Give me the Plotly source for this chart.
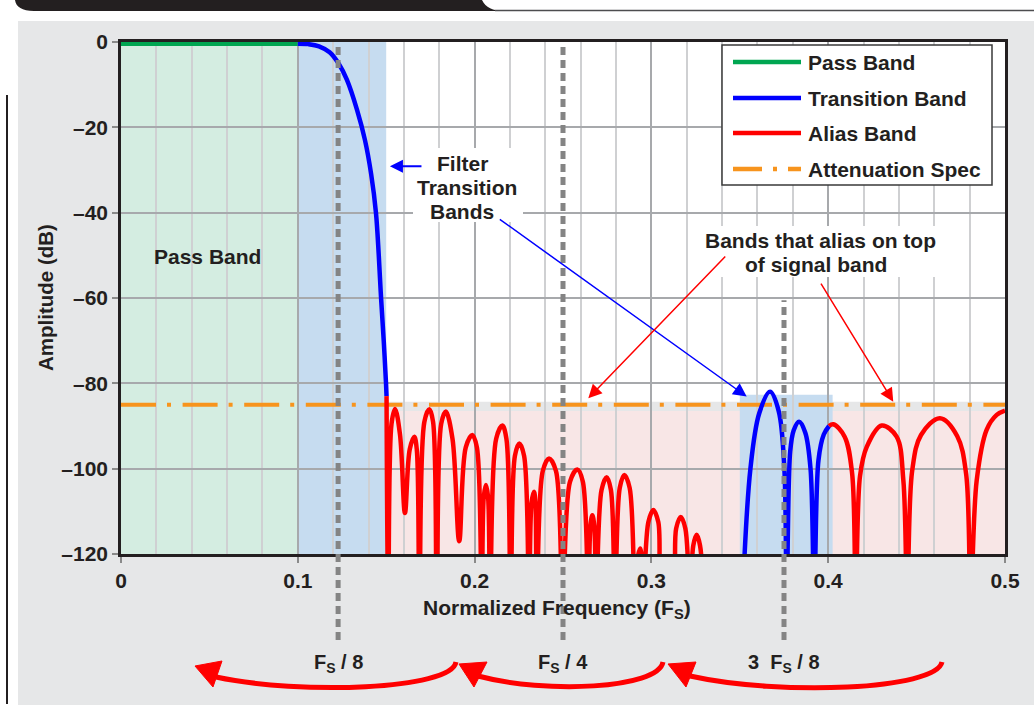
import plotly.graph_objects as go

# ---------------- data ----------------
x_tick_vals = [0, 0.1, 0.2, 0.3, 0.4, 0.5]
x_tick_text = ["0", "0.1", "0.2", "0.3", "0.4", "0.5"]
y_tick_vals = [0, -20, -40, -60, -80, -100, -120]
y_tick_text = ["0", "\u201320", "\u201340", "\u201360", "\u201380", "\u2013100", "\u2013120"]

pass_f = [0.0, 0.1]
pass_db = [-0.4, -0.4]

trans1_f = [0.100, 0.106, 0.112, 0.118, 0.123, 0.1278, 0.1335, 0.1380, 0.1415,
            0.1442, 0.1458, 0.1471, 0.1486, 0.1499, 0.1502]
trans1_db = [-0.4, -0.5, -1.0, -2.4, -5.0, -8.9, -15.9, -23.0, -31.0,
             -40.0, -50.0, -60.0, -70.0, -80.0, -83.0]

alias1_f = [0.1502, 0.1512, 0.1530, 0.1550, 0.1578, 0.1606, 0.1633, 0.1659, 0.1673,
            0.1688, 0.1716, 0.1744, 0.1765, 0.1786, 0.1811, 0.1837, 0.1875, 0.1913,
            0.1950, 0.1987, 0.2013, 0.2040, 0.2052, 0.2064, 0.2076, 0.2088, 0.2122,
            0.2157, 0.2180, 0.2204, 0.2228, 0.2253, 0.2280, 0.2308, 0.2322, 0.2336,
            0.2344, 0.2352, 0.2386, 0.2421, 0.2460, 0.2498, 0.2540, 0.2581, 0.2612,
            0.2643, 0.2655, 0.2666, 0.2677, 0.2688, 0.2718, 0.2747, 0.2771, 0.2794,
            0.2821, 0.2847, 0.2877, 0.2907, 0.2922, 0.2936, 0.2946, 0.2954, 0.2983,
            0.3011, 0.3039, 0.3067, 0.3114, 0.3140, 0.3166, 0.3192, 0.3218, 0.3237,
            0.3256, 0.3275, 0.3294]
alias1_db = [-83.0, -130.0, -89.5, -86.0, -92.0, -110.4, -95.5, -92.5, -95.5,
             -130.0, -89.0, -86.1, -89.0, -130.0, -89.5, -86.6, -93.0, -117.0,
             -95.0, -92.1, -95.0, -130.0, -106.5, -103.8, -106.5, -130.0, -93.0,
             -89.9, -93.0, -130.0, -97.0, -94.1, -97.0, -130.0, -108.0, -105.4,
             -108.0, -130.0, -100.5, -97.6, -100.5, -130.0, -103.0, -100.2, -103.0,
             -130.0, -113.5, -110.9, -113.5, -130.0, -105.0, -102.0, -105.0, -130.0,
             -104.5, -101.5, -104.5, -130.0, -121.0, -118.7, -121.0, -130.0, -112.5,
             -109.7, -112.5, -130.0, -130.0, -114.0, -111.3, -114.0, -130.0, -118.0,
             -115.5, -118.0, -130.0]

trans2_f = [0.3516, 0.3560, 0.3610, 0.3671, 0.3720, 0.3752, 0.3765, 0.3785, 0.3805,
            0.3835, 0.3870, 0.3900, 0.3921, 0.3945, 0.3975, 0.4005]
trans2_db = [-130.0, -100.0, -87.0, -82.0, -86.5, -100.0, -130.0, -96.0, -91.0,
             -89.0, -91.5, -100.0, -130.0, -98.0, -92.0, -90.0]

alias2_f = [0.4005, 0.4029, 0.4093, 0.4135, 0.4156, 0.4180, 0.4218, 0.4303, 0.4387,
            0.4425, 0.4447, 0.4475, 0.4525, 0.4632, 0.4730, 0.4780, 0.4806, 0.4840,
            0.4896, 0.4953, 0.5000]
alias2_db = [-90.0, -89.6, -92.5, -101.0, -130.0, -101.7, -94.9, -89.9, -92.5,
             -102.7, -130.0, -100.5, -92.1, -88.2, -92.4, -101.2, -130.0, -102.7,
             -90.9, -87.4, -86.4]

atten_f = [0.0, 0.5]
atten_db = [-85.0, -85.0]

pass_band_edges = [0.0, 0.1]
trans_band_edges = [0.1, 0.15]
alias_band_edges = [0.15, 0.5]
alias_band_top = -86.5
halo_band = [-86.5, -84.3]
trans2_band_edges = [0.35, 0.4025]
trans2_band_top = -82.7
db_range = [-120, 0]
f_range = [0, 0.5]

fs_marks = [0.1228, 0.25, 0.375]
fs_mark_top_db = [0, 0, -60.5]
fs_labels = ["F<sub>S</sub> / 8", "F<sub>S</sub> / 4", "3\u00a0 F<sub>S</sub> / 8"]

legend_names = ["Pass Band", "Transition Band", "Alias Band", "Attenuation Spec"]

filter_note_lines = ["Filter", "Transition", "Bands"]
alias_note_lines = ["Bands that alias on top", "of signal band"]

# ---------------- style ----------------
GREEN = "#00a651"
BLUE = "#0000ff"
RED = "#ff0000"
ORANGE = "#f7941d"
DASH_GRAY = "#848484"
TEXT = "#231f20"
PANEL = "#e6e7e8"
GREEN_FILL = "#d4ede1"
BLUE_FILL = "#c6dcf0"
PINK_FILL = "#f8e6e6"
FONT = "Liberation Sans, Arial, sans-serif"
FS = 21

W, H = 1034, 709
ML, MR, MT, MB = 121, 29, 42, 155
PW = W - ML - MR
PH = H - MT - MB


def px(x):
    return (x - ML) / PW


def py(y):
    return (H - MB - y) / PH


def path_from(segs):
    out = []
    for s in segs:
        c = s[0]
        nums = s[1:]
        coords = []
        for i in range(0, len(nums), 2):
            coords.append(f"{px(nums[i]):.5f},{py(nums[i+1]):.5f}")
        out.append(c + " " + " ".join(coords))
    return " ".join(out)


def bold(size=FS):
    return dict(family=FONT, size=size, color=TEXT, weight="bold")


fig = go.Figure()

line_w = 4.5
fig.add_trace(go.Scatter(x=atten_f, y=atten_db, mode="lines",
                         line=dict(color=ORANGE, width=4, dash="35px,11px,4px,11.6px"),
                         hoverinfo="skip", showlegend=False))
fig.add_trace(go.Scatter(x=pass_f, y=pass_db, mode="lines",
                         line=dict(color=GREEN, width=line_w), hoverinfo="skip", showlegend=False))
for fx, dbv, col in [(trans1_f, trans1_db, BLUE), (alias1_f, alias1_db, RED),
                     (trans2_f, trans2_db, BLUE), (alias2_f, alias2_db, RED)]:
    fig.add_trace(go.Scatter(x=fx, y=dbv, mode="lines",
                             line=dict(color=col, width=line_w, shape="spline", smoothing=1),
                             hoverinfo="skip", showlegend=False))

shapes = []
# gray panel + header decorations
shapes.append(dict(type="rect", xref="paper", yref="paper", x0=px(18), x1=px(1034), y0=py(705), y1=py(21),
                   fillcolor=PANEL, line=dict(width=0), layer="below"))
shapes.append(dict(type="path", xref="paper", yref="paper", layer="below",
                   path=path_from([("M", 15, 0), ("L", 482, 0), ("C", 486, 8, 492, 10.5, 505, 11),
                                   ("L", 34, 11), ("C", 22, 11, 16, 7, 15, 0)]) + " Z",
                   fillcolor=TEXT, line=dict(width=0)))
shapes.append(dict(type="line", xref="paper", yref="paper", x0=px(495), x1=px(1034), y0=py(10.6), y1=py(10.6),
                   line=dict(color="#4d4d4f", width=1.5), layer="below"))
shapes.append(dict(type="line", xref="paper", yref="paper", x0=px(7), x1=px(7), y0=py(95), y1=py(704),
                   line=dict(color=TEXT, width=2), layer="below"))
# plot area + band fills
shapes.append(dict(type="rect", xref="x", yref="y", x0=f_range[0], x1=f_range[1], y0=db_range[0], y1=db_range[1],
                   fillcolor="white", line=dict(width=0), layer="below"))
shapes.append(dict(type="rect", xref="x", yref="y", x0=pass_band_edges[0], x1=pass_band_edges[1],
                   y0=db_range[0], y1=db_range[1], fillcolor=GREEN_FILL, line=dict(width=0), layer="below"))
shapes.append(dict(type="rect", xref="x", yref="y", x0=trans_band_edges[0], x1=trans_band_edges[1],
                   y0=db_range[0], y1=db_range[1], fillcolor=BLUE_FILL, line=dict(width=0), layer="below"))
shapes.append(dict(type="rect", xref="x", yref="y", x0=alias_band_edges[0], x1=alias_band_edges[1],
                   y0=db_range[0], y1=alias_band_top, fillcolor=PINK_FILL, line=dict(width=0), layer="below"))
shapes.append(dict(type="rect", xref="x", yref="y", x0=alias_band_edges[0], x1=alias_band_edges[1],
                   y0=halo_band[0], y1=halo_band[1], fillcolor=PANEL, line=dict(width=0), layer="below"))
shapes.append(dict(type="rect", xref="x", yref="y", x0=trans2_band_edges[0], x1=trans2_band_edges[1],
                   y0=db_range[0], y1=trans2_band_top, fillcolor=BLUE_FILL, line=dict(width=0), layer="below"))
# white boxes behind the notes
shapes.append(dict(type="rect", xref="paper", yref="paper", x0=px(413), x1=px(523), y0=py(222), y1=py(148),
                   fillcolor="white", line=dict(width=0), layer="above"))
shapes.append(dict(type="rect", xref="paper", yref="paper", x0=px(693), x1=px(948), y0=py(277), y1=py(226),
                   fillcolor="white", line=dict(width=0), layer="above"))
# Fs marker dashed lines
for f, top in zip(fs_marks, fs_mark_top_db):
    shapes.append(dict(type="line", xref="x", yref="paper", x0=f, x1=f,
                       y0=py(640), y1=(top - db_range[0]) / (db_range[1] - db_range[0]),
                       line=dict(color=DASH_GRAY, width=5, dash="8px,5px"), layer="above"))

# bottom curved red arrows
arcs = [
    ((456, 662), (451, 690), (300, 695), (216, 677)),
    ((663, 662), (658, 689), (545, 694), (478, 676)),
    ((942, 662), (936, 690), (780, 696), (690, 676)),
]
heads = [
    ((195, 666), (222, 661), (213, 687)),
    ((459, 664), (487, 662), (474, 687)),
    ((668, 664), (696, 662), (686, 687)),
]
for a in arcs:
    shapes.append(dict(type="path", xref="paper", yref="paper", layer="above",
                       path=path_from([("M",) + a[0], ("C",) + a[1] + a[2] + a[3]]),
                       line=dict(color=RED, width=5)))
for h in heads:
    shapes.append(dict(type="path", xref="paper", yref="paper", layer="above",
                       path=path_from([("M",) + h[0], ("L",) + h[1], ("L",) + h[2]]) + " Z",
                       fillcolor=RED, line=dict(color=RED, width=1)))

# manual legend
shapes.append(dict(type="rect", xref="paper", yref="paper", x0=px(722), x1=px(992), y0=py(185), y1=py(45),
                   fillcolor="white", line=dict(color="#3a3a3a", width=1.5), layer="above"))
leg_rows = [62, 98, 133, 169]
leg_colors = [GREEN, BLUE, RED, ORANGE]
leg_dash = ["solid", "solid", "solid", "29px,11px,4px,11px"]
annotations = []
for name, yy, c, d in zip(legend_names, leg_rows, leg_colors, leg_dash):
    shapes.append(dict(type="line", xref="paper", yref="paper", x0=px(733), x1=px(801), y0=py(yy), y1=py(yy),
                       line=dict(color=c, width=4.5, dash=d), layer="above"))
    annotations.append(dict(xref="paper", yref="paper", x=px(806), y=py(yy), text=name, showarrow=False,
                            xanchor="left", yanchor="middle", font=bold()))

# text annotations
annotations.append(dict(x=px(207), y=py(256), xref="paper", yref="paper", text="Pass Band",
                        showarrow=False, xanchor="center", yanchor="middle", font=bold()))
for line, cx, cy in zip(filter_note_lines, [462, 467, 462], [163, 187, 211]):
    annotations.append(dict(x=px(cx), y=py(cy), xref="paper", yref="paper", text=line,
                            showarrow=False, xanchor="center", yanchor="middle", font=bold()))
for line, cx, cy in zip(alias_note_lines, [820, 816], [240, 264]):
    annotations.append(dict(x=px(cx), y=py(cy), xref="paper", yref="paper", text=line,
                            showarrow=False, xanchor="center", yanchor="middle", font=bold()))
# pointer arrows
pointers = [
    (0.1521, -29.1, 0.1708, -29.1, BLUE, 2.0, 1.3),
    (0.3539, -83.1, 0.2134, -41.3, BLUE, 1.5, 1.8),
    (0.2643, -83.5, 0.3426, -49.9, RED, 1.5, 1.8),
    (0.4368, -84.3, 0.3954, -56.3, RED, 1.5, 1.8),
]
for x, y, ax, ay, c, w, s in pointers:
    annotations.append(dict(x=x, y=y, ax=ax, ay=ay, xref="x", yref="y", axref="x", ayref="y",
                            text="", showarrow=True, arrowhead=2, arrowsize=s, arrowwidth=w,
                            arrowcolor=c, standoff=0))
# Fs labels under the axis
for f, lab in zip(fs_marks, fs_labels):
    annotations.append(dict(x=f, y=py(663), xref="x", yref="paper", text=lab, showarrow=False,
                            xanchor="center", yanchor="middle", font=bold(20)))
# axis titles
annotations.append(dict(x=px(557), y=py(609), xref="paper", yref="paper",
                        text="Normalized Frequency (F<sub>S</sub>)", showarrow=False,
                        xanchor="center", yanchor="middle", font=bold()))
annotations.append(dict(x=px(45), y=0.5, xref="paper", yref="paper", text="Amplitude (dB)",
                        showarrow=False, textangle=-90, xanchor="center", yanchor="middle",
                        font=bold(20.5)))

fig.update_layout(
    width=W, height=H,
    margin=dict(l=ML, r=MR, t=MT, b=MB),
    paper_bgcolor="white", plot_bgcolor="white",
    showlegend=False, hovermode=False,
    shapes=shapes, annotations=annotations,
    font=dict(family=FONT, color=TEXT),
)
fig.update_xaxes(range=f_range, tickvals=x_tick_vals, ticktext=x_tick_text,
                 showgrid=True, gridcolor="#a7a9ac", gridwidth=1.5, zeroline=False,
                 showline=True, linecolor=TEXT, linewidth=2.5, mirror=True,
                 ticks="outside", ticklen=6, tickcolor="#8a8a8a", tickwidth=2,
                 tickfont=bold(),
                 minor=dict(tickmode="linear", tick0=0, dtick=0.02, showgrid=True,
                            gridcolor="#cfd0d2", gridwidth=1.5, ticks=""))
fig.update_yaxes(range=db_range, tickvals=y_tick_vals, ticktext=y_tick_text,
                 showgrid=True, gridcolor="#a7a9ac", gridwidth=1.5, zeroline=False,
                 showline=True, linecolor=TEXT, linewidth=2.5, mirror=True,
                 ticks="outside", ticklen=6, tickcolor="#8a8a8a", tickwidth=2,
                 tickfont=bold())

fig.write_html("out.html")
